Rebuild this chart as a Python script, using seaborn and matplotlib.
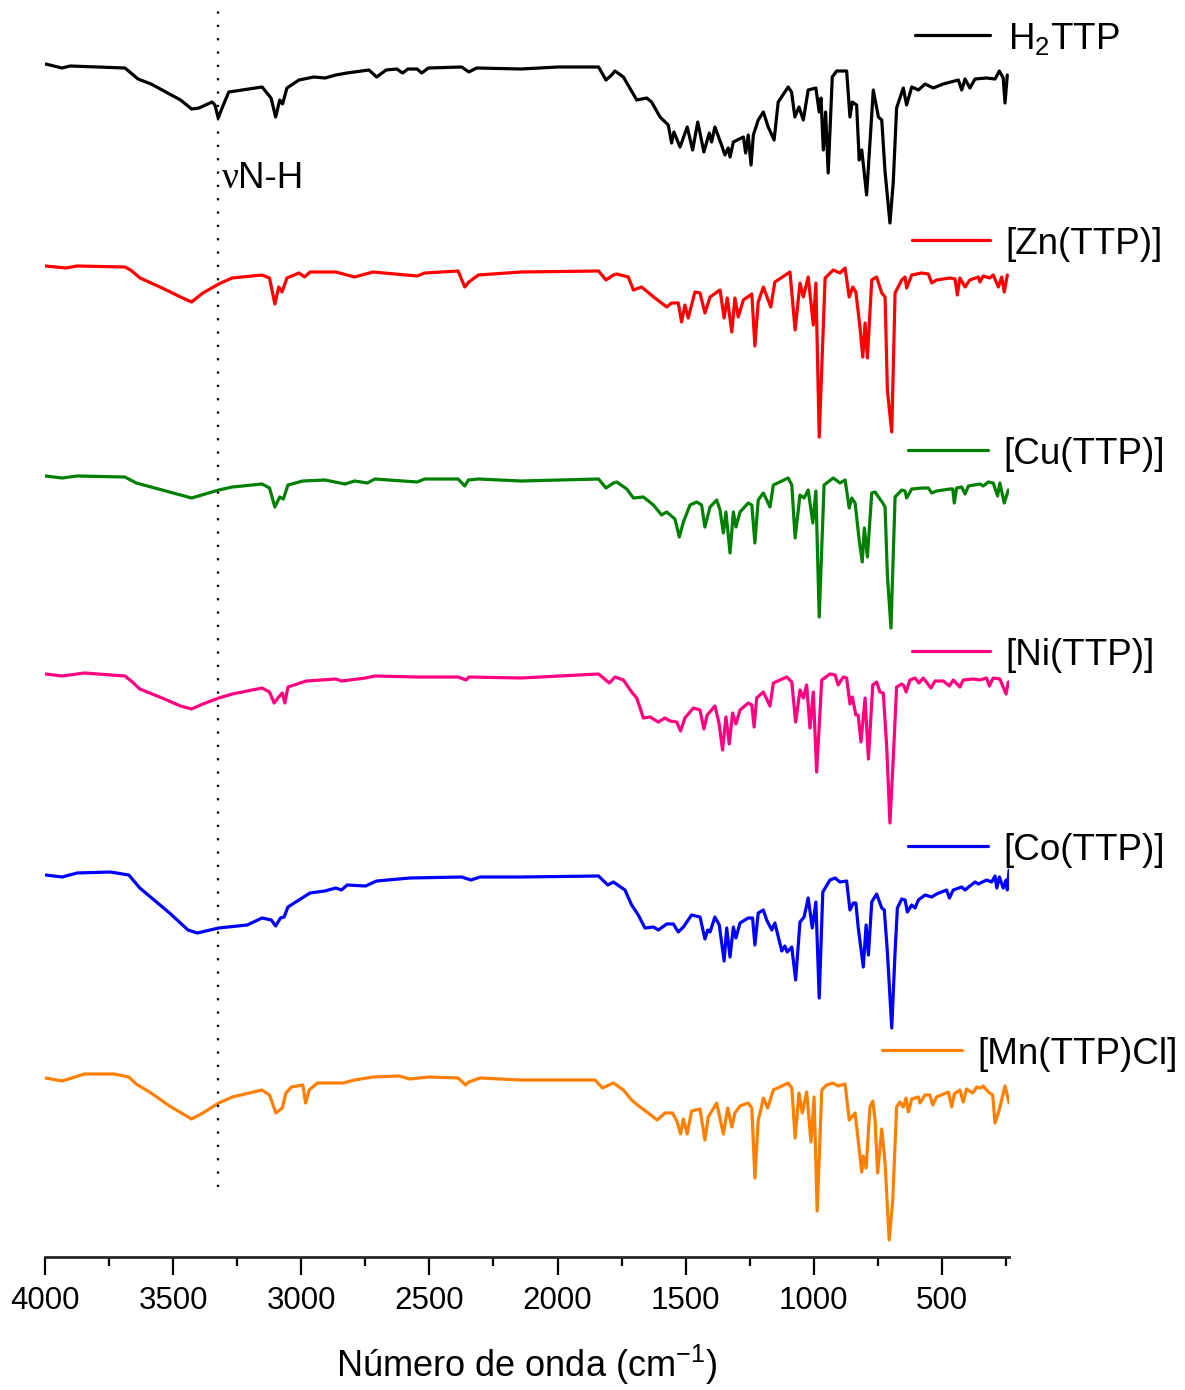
import numpy as np
import pandas as pd
import matplotlib
matplotlib.use("Agg")
import matplotlib.pyplot as plt
from matplotlib.lines import Line2D
from matplotlib.ticker import MultipleLocator
import seaborn as sns

# FT-IR spectra, stacked: columns are wavenumber (cm-1) and offset transmittance (a.u.)
h2ttp = np.array([
    (3998, 1193), (3934, 1189), (3902, 1191), (3688, 1189), (3637, 1178), (3586, 1173),
    (3471, 1157), (3428, 1148), (3399, 1149), (3348, 1155), (3337, 1152), (3324, 1139),
    (3309, 1149), (3283, 1165), (3153, 1170), (3118, 1159), (3100, 1140), (3084, 1157),
    (3073, 1153), (3056, 1169), (3009, 1177), (2951, 1180), (2907, 1179), (2865, 1182),
    (2822, 1184), (2736, 1187), (2706, 1180), (2669, 1187), (2627, 1188), (2605, 1184),
    (2584, 1188), (2548, 1188), (2530, 1184), (2504, 1189), (2374, 1190), (2346, 1185),
    (2316, 1189), (2143, 1188), (1998, 1190), (1840, 1190), (1811, 1177), (1789, 1182),
    (1776, 1186), (1743, 1180), (1691, 1157), (1652, 1159), (1633, 1155), (1600, 1140),
    (1568, 1132), (1555, 1114), (1546, 1125), (1522, 1110), (1494, 1130), (1473, 1107),
    (1453, 1135), (1429, 1105), (1408, 1124), (1399, 1115), (1386, 1130), (1360, 1112),
    (1347, 1102), (1334, 1109), (1327, 1100), (1314, 1115), (1275, 1120), (1266, 1104),
    (1256, 1122), (1245, 1092), (1236, 1122), (1217, 1137), (1197, 1145), (1178, 1130),
    (1155, 1117), (1139, 1155), (1100, 1170), (1087, 1165), (1074, 1140), (1058, 1150),
    (1041, 1137), (1022, 1167), (992, 1169), (979, 1145), (972, 1159), (963, 1107),
    (954, 1145), (944, 1084), (928, 1180), (911, 1186), (872, 1186), (859, 1140),
    (850, 1155), (833, 1152), (823, 1097), (813, 1107), (794, 1062), (768, 1167),
    (748, 1140), (735, 1137), (722, 1085), (703, 1034), (690, 1075), (677, 1149),
    (651, 1169), (638, 1152), (618, 1170), (592, 1167), (566, 1173), (534, 1169),
    (495, 1173), (436, 1177), (423, 1167), (410, 1178), (391, 1169), (371, 1178),
    (326, 1179), (293, 1178), (276, 1186), (261, 1179), (254, 1154), (245, 1182),
])

zn_ttp = np.array([
    (3998, 991), (3918, 989), (3875, 991), (3688, 990), (3666, 987), (3629, 979),
    (3543, 969), (3471, 960), (3428, 955), (3384, 964), (3322, 973), (3270, 979),
    (3153, 982), (3124, 979), (3103, 953), (3088, 970), (3075, 965), (3056, 979),
    (3009, 984), (2987, 980), (2966, 985), (2865, 985), (2792, 980), (2720, 985),
    (2548, 981), (2518, 984), (2388, 986), (2362, 970), (2346, 975), (2309, 982),
    (2143, 985), (1840, 986), (1811, 977), (1782, 982), (1769, 983), (1724, 980),
    (1704, 967), (1672, 970), (1620, 959), (1574, 950), (1555, 954), (1529, 954),
    (1516, 935), (1503, 952), (1490, 939), (1464, 965), (1444, 964), (1425, 944),
    (1405, 960), (1366, 967), (1350, 939), (1338, 959), (1320, 925), (1308, 959),
    (1295, 940), (1275, 957), (1242, 963), (1230, 911), (1217, 955), (1197, 970),
    (1168, 950), (1152, 975), (1093, 985), (1073, 927), (1054, 974), (1041, 960),
    (1022, 980), (1002, 932), (992, 974), (979, 820), (956, 979), (924, 987),
    (898, 984), (878, 989), (862, 960), (848, 970), (836, 965), (820, 930),
    (809, 900), (800, 934), (791, 899), (774, 977), (755, 980), (735, 964),
    (722, 960), (713, 867), (696, 825), (683, 964), (657, 977), (644, 980),
    (638, 969), (618, 982), (579, 984), (553, 983), (540, 974), (521, 977),
    (469, 979), (449, 978), (440, 962), (430, 979), (410, 970), (391, 977),
    (358, 980), (352, 975), (339, 981), (313, 979), (300, 982), (280, 970),
    (267, 980), (257, 965), (245, 982),
])

cu_ttp = np.array([
    (3998, 781), (3933, 779), (3875, 781), (3688, 780), (3644, 774), (3586, 770),
    (3500, 764), (3428, 759), (3322, 767), (3269, 770), (3153, 773), (3124, 769),
    (3103, 750), (3084, 760), (3070, 758), (3052, 772), (2994, 776), (2908, 777),
    (2829, 773), (2792, 776), (2742, 774), (2713, 778), (2548, 775), (2518, 778),
    (2388, 778), (2362, 771), (2348, 777), (2309, 778), (2143, 776), (1840, 778),
    (1811, 769), (1782, 774), (1769, 775), (1730, 768), (1704, 759), (1665, 760),
    (1626, 752), (1594, 742), (1574, 745), (1542, 738), (1525, 720), (1509, 735),
    (1483, 752), (1457, 755), (1438, 752), (1425, 730), (1405, 750), (1379, 757),
    (1366, 747), (1353, 724), (1343, 745), (1327, 704), (1314, 745), (1304, 730),
    (1288, 745), (1256, 754), (1242, 752), (1230, 714), (1217, 757), (1197, 764),
    (1171, 750), (1158, 772), (1100, 779), (1086, 772), (1073, 719), (1054, 762),
    (1038, 759), (1022, 767), (1004, 734), (992, 766), (979, 640), (960, 772),
    (924, 779), (898, 774), (878, 777), (862, 749), (852, 759), (839, 754),
    (823, 717), (811, 695), (803, 729), (791, 700), (774, 764), (761, 765),
    (731, 754), (722, 750), (713, 682), (699, 629), (683, 760), (657, 767),
    (644, 766), (638, 759), (618, 768), (573, 769), (553, 769), (540, 764),
    (521, 766), (469, 768), (458, 768), (452, 754), (443, 769), (423, 770),
    (410, 763), (397, 771), (352, 773), (339, 771), (319, 775), (300, 774),
    (283, 761), (274, 774), (257, 754), (241, 767),
])

ni_ttp = np.array([
    (3998, 583), (3933, 581), (3846, 584), (3688, 581), (3659, 575), (3630, 568),
    (3543, 559), (3471, 551), (3428, 548), (3384, 553), (3322, 559), (3269, 563),
    (3153, 569), (3124, 565), (3106, 554), (3088, 560), (3074, 564), (3064, 554),
    (3052, 570), (2980, 576), (2865, 578), (2843, 576), (2749, 579), (2713, 581),
    (2548, 580), (2388, 580), (2357, 577), (2346, 580), (2143, 579), (1840, 583),
    (1798, 574), (1776, 580), (1743, 577), (1711, 565), (1691, 559), (1665, 539),
    (1639, 540), (1607, 535), (1581, 539), (1561, 536), (1535, 535), (1520, 526),
    (1503, 539), (1470, 549), (1444, 547), (1429, 528), (1416, 542), (1386, 551),
    (1370, 534), (1356, 507), (1343, 540), (1330, 513), (1317, 544), (1304, 533),
    (1288, 547), (1256, 554), (1242, 552), (1233, 530), (1223, 559), (1197, 565),
    (1171, 551), (1158, 574), (1106, 580), (1086, 575), (1071, 535), (1054, 567),
    (1041, 559), (1028, 572), (1015, 529), (1002, 565), (989, 485), (969, 577),
    (937, 583), (917, 582), (905, 572), (885, 580), (872, 579), (859, 553),
    (850, 560), (836, 542), (827, 542), (816, 515), (800, 559), (787, 498),
    (770, 572), (755, 575), (742, 565), (729, 564), (716, 512), (703, 434),
    (690, 499), (677, 570), (657, 573), (648, 571), (640, 565), (625, 577),
    (605, 579), (590, 574), (573, 579), (543, 569), (527, 576), (495, 576),
    (471, 571), (456, 577), (430, 570), (417, 577), (378, 578), (352, 577),
    (326, 579), (315, 571), (300, 579), (274, 578), (250, 563), (241, 575),
])

co_ttp = np.array([
    (3998, 382), (3933, 380), (3875, 384), (3745, 385), (3673, 382), (3630, 369),
    (3514, 344), (3442, 327), (3406, 324), (3322, 329), (3211, 332), (3153, 339),
    (3117, 337), (3100, 331), (3081, 339), (3067, 340), (3052, 350), (2966, 364),
    (2908, 366), (2865, 369), (2843, 367), (2821, 372), (2749, 371), (2706, 376),
    (2576, 379), (2374, 380), (2338, 377), (2302, 380), (2143, 380), (1840, 381),
    (1804, 372), (1782, 375), (1737, 367), (1711, 352), (1685, 342), (1659, 329),
    (1626, 330), (1607, 327), (1574, 333), (1548, 333), (1529, 325), (1509, 330),
    (1477, 342), (1444, 340), (1425, 318), (1414, 327), (1405, 325), (1386, 340),
    (1369, 332), (1350, 296), (1340, 329), (1327, 300), (1314, 330), (1304, 319),
    (1288, 334), (1256, 339), (1239, 339), (1230, 312), (1217, 344), (1197, 347),
    (1184, 337), (1164, 327), (1152, 334), (1125, 306), (1113, 311), (1104, 305),
    (1086, 310), (1071, 277), (1054, 335), (1038, 340), (1022, 359), (1006, 329),
    (992, 355), (979, 259), (965, 365), (937, 377), (917, 379), (898, 375),
    (872, 376), (859, 347), (846, 354), (836, 354), (827, 330), (807, 290),
    (796, 332), (787, 302), (774, 355), (755, 363), (735, 349), (725, 347),
    (713, 305), (696, 229), (683, 305), (674, 349), (657, 358), (644, 357),
    (635, 345), (618, 352), (605, 349), (592, 357), (566, 362), (540, 360),
    (521, 363), (482, 367), (471, 359), (456, 367), (423, 370), (410, 367),
    (391, 371), (371, 375), (358, 373), (326, 377), (306, 375), (293, 381),
    (286, 369), (276, 380), (261, 369), (250, 377), (245, 367), (238, 387),
])

mn_ttp_cl = np.array([
    (3998, 179), (3933, 176), (3846, 183), (3731, 183), (3673, 180), (3644, 173),
    (3586, 164), (3514, 151), (3428, 138), (3384, 144), (3322, 154), (3269, 160),
    (3153, 167), (3124, 162), (3099, 144), (3074, 149), (3060, 164), (3038, 170),
    (2994, 172), (2983, 154), (2969, 167), (2937, 174), (2836, 174), (2792, 177),
    (2720, 180), (2619, 181), (2576, 178), (2504, 180), (2388, 179), (2359, 172),
    (2346, 175), (2302, 179), (2143, 177), (1854, 177), (1825, 169), (1782, 174),
    (1743, 167), (1711, 157), (1678, 150), (1646, 144), (1611, 137), (1581, 144),
    (1551, 144), (1533, 135), (1520, 123), (1509, 138), (1494, 123), (1477, 146),
    (1444, 148), (1425, 117), (1412, 140), (1379, 154), (1353, 123), (1336, 149),
    (1320, 130), (1308, 144), (1288, 151), (1256, 154), (1242, 149), (1230, 79),
    (1217, 137), (1207, 147), (1197, 159), (1180, 149), (1158, 167), (1100, 174),
    (1086, 169), (1073, 119), (1058, 164), (1045, 144), (1028, 165), (1011, 115),
    (999, 160), (987, 46), (969, 167), (950, 172), (926, 174), (905, 171),
    (878, 173), (862, 137), (839, 144), (827, 117), (813, 85), (807, 101),
    (796, 89), (781, 150), (770, 156), (761, 137), (751, 84), (735, 128),
    (722, 94), (706, 17), (692, 57), (677, 150), (664, 155), (651, 150),
    (640, 159), (631, 145), (618, 158), (592, 160), (586, 154), (566, 162),
    (547, 162), (536, 152), (521, 160), (475, 165), (462, 150), (452, 163),
    (430, 167), (417, 155), (404, 168), (380, 164), (364, 170), (349, 169),
    (339, 171), (319, 165), (302, 162), (293, 134), (280, 144), (270, 154),
    (254, 171), (238, 154),
])

samples = ["H$_2$TTP", "[Zn(TTP)]", "[Cu(TTP)]", "[Ni(TTP)]", "[Co(TTP)]", "[Mn(TTP)Cl]"]
spectra = [h2ttp, zn_ttp, cu_ttp, ni_ttp, co_ttp, mn_ttp_cl]
colors = ["#000000", "#ff0000", "#008000", "#ff0080", "#0000ff", "#ff8000"]
nh_band = 3325          # N-H stretch of the free-base porphyrin
x_ticks = [4000, 3500, 3000, 2500, 2000, 1500, 1000, 500]

frames = []
for name, arr in zip(samples, spectra):
    frames.append(pd.DataFrame({"wavenumber": arr[:, 0], "signal": arr[:, 1], "sample": name}))
df = pd.concat(frames, ignore_index=True)

sns.set_theme(style="ticks")
plt.rcParams["font.family"] = ["Liberation Sans", "DejaVu Sans"]
plt.rcParams["mathtext.fontset"] = "custom"
plt.rcParams["mathtext.rm"] = "Liberation Sans"
plt.rcParams["mathtext.it"] = "Liberation Sans:italic"
plt.rcParams["mathtext.bf"] = "Liberation Sans:bold"

W, H = 1185, 1390
fig = plt.figure(figsize=(W / 100, H / 100), dpi=100)
ax = fig.add_axes([45 / W, 1 - 1257 / H, 963.6 / W, 1257 / H])

sns.lineplot(data=df, x="wavenumber", y="signal", hue="sample", hue_order=samples,
             palette=colors, estimator=None, sort=False, linewidth=2.3,
             legend=False, ax=ax)

ax.plot([nh_band, nh_band], [70, 1249], color="black", linewidth=1.6,
        linestyle=(0, (1, 5)))

ax.set_xlim(4000, 240)
ax.set_ylim(0, 1257)
ax.set_yticks([])
ax.set_ylabel("")
ax.set_xticks(x_ticks)
ax.set_xticklabels([str(t) for t in x_ticks])
ax.xaxis.set_minor_locator(MultipleLocator(250))
sns.despine(ax=ax, left=True, top=True, right=True)
ax.spines["bottom"].set_linewidth(2.0)
ax.tick_params(axis="x", which="major", direction="out", length=13, width=1.6,
               labelsize=22.5, pad=8, color="black", labelcolor="black")
ax.tick_params(axis="x", which="minor", direction="out", length=6.5, width=1.6,
               color="black")
ax.set_xlabel("Número de onda (cm$^{-1}$)", fontsize=26, labelpad=19, color="black")
ax.patch.set_alpha(0)

# per-sample key: short line followed by the sample name
key_px = [(915, 990, 35, 1008), (912, 990, 240, 1005), (908, 988, 450, 1003),
          (912, 990, 651, 1005), (908, 988, 846, 1003), (882, 962, 1050, 977)]
for (x0, x1, y, xt), name, c in zip(key_px, samples, colors):
    fig.add_artist(Line2D([x0 / W, x1 / W], [1 - y / H, 1 - y / H],
                          transform=fig.transFigure, color=c, linewidth=2.3))
    fig.text(xt / W, 1 - (y + 14) / H, name, fontsize=26.5, ha="left",
             va="baseline", color="black")

# band annotation next to the dotted marker
fig.text(222 / W, 1 - 188 / H, "ν", fontsize=27, family=["Liberation Serif", "DejaVu Serif"],
         ha="left", va="baseline", color="black")
fig.text(238 / W, 1 - 188 / H, "N-H", fontsize=26.5, ha="left", va="baseline",
         color="black")

fig.savefig("out.png", dpi=100)
